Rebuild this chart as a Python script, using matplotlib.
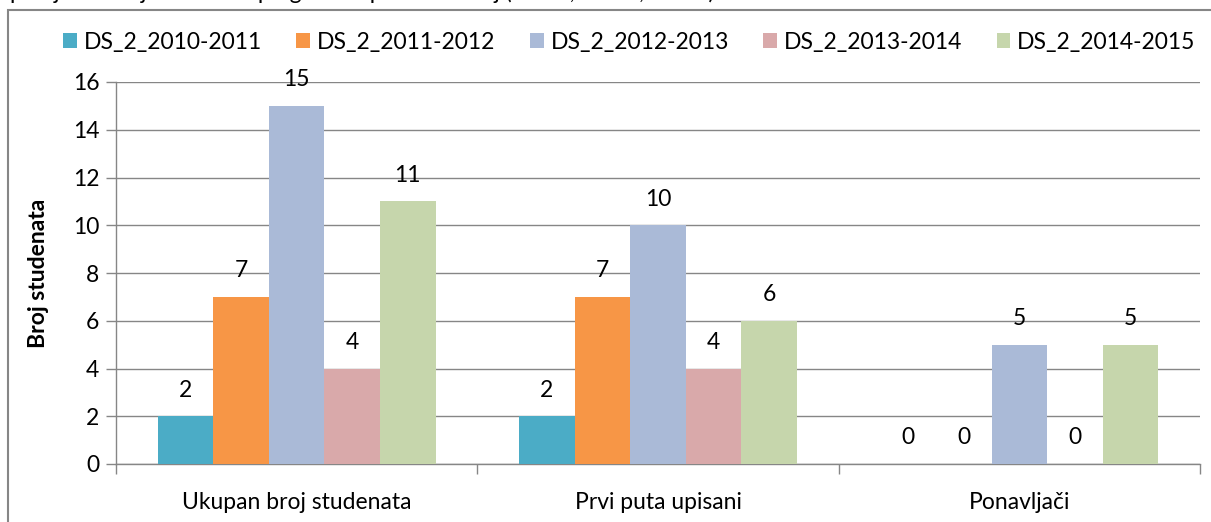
import matplotlib
matplotlib.use("Agg")
import matplotlib.pyplot as plt
import numpy as np
from matplotlib.patches import Rectangle

plt.rcParams['font.family'] = ['Lato', 'DejaVu Sans']

categories = ["Ukupan broj studenata", "Prvi puta upisani", "Ponavljači"]
series_names = ["DS_2_2010-2011", "DS_2_2011-2012", "DS_2_2012-2013",
                "DS_2_2013-2014", "DS_2_2014-2015"]
values_2010 = [2, 2, 0]
values_2011 = [7, 7, 0]
values_2012 = [15, 10, 5]
values_2013 = [4, 4, 0]
values_2014 = [11, 6, 5]
series_values = [values_2010, values_2011, values_2012, values_2013, values_2014]

colors = ["#4BACC6", "#F79646", "#AABAD7", "#D9A9AA", "#C6D6AC"]

W, H = 1211, 522
FS = 16.5
fig = plt.figure(figsize=(W / 100, H / 100), dpi=100)
ax = fig.add_axes([116 / W, 1 - 464 / H, (1200 - 116) / W, (464 - 82) / H])

# chart border and clipped title above it
fig.patches.append(Rectangle((8 / W, -0.1), 1.5, 1 - 10 / H + 0.1,
                             transform=fig.transFigure, fill=False,
                             edgecolor="#868686", linewidth=1.5))
fig.text(10 / W, 1 + 1 / H,
         "prosječni broj studenata po godini upisa na studij (2010., 2011., 2012.)",
         fontsize=FS, va="baseline", ha="left", color="black")

n = len(series_names)
bw = 1 / 6.5
x = np.arange(len(categories))
for i, (name, vals) in enumerate(zip(series_names, series_values)):
    pos = x - (n - 1) / 2 * bw + i * bw
    ax.bar(pos, vals, width=bw, color=colors[i], label=name, zorder=3,
           linewidth=0)
    for xi, v in zip(pos, vals):
        ax.annotate(str(v), (xi, v), xytext=(0, 26 * 0.72),
                    textcoords="offset points", ha="center", va="center",
                    fontsize=FS, zorder=4)

ax.set_xlim(-0.5, 2.5)
ax.set_ylim(0, 16)
ax.set_yticks(range(0, 17, 2))
ax.set_xticks(x)
ax.set_xticklabels(categories, fontsize=FS)
ax.set_xticks([-0.5, 0.5, 1.5, 2.5], minor=True)
ax.tick_params(axis="x", which="major", length=0, pad=20)
ax.tick_params(axis="x", which="minor", length=7, color="#868686", width=1)
ax.tick_params(axis="y", length=7, color="#868686", width=1, labelsize=FS, pad=5)
ax.grid(axis="y", color="#868686", linewidth=1, zorder=0)
for s in ["top", "right"]:
    ax.spines[s].set_visible(False)
for s in ["left", "bottom"]:
    ax.spines[s].set_color("#868686")
    ax.spines[s].set_linewidth(1)
ax.set_ylabel("Broj studenata", fontsize=FS, fontweight="bold", labelpad=17)

ax.legend(loc="center left", bbox_to_anchor=(54 / W, 1 - 42 / H),
          bbox_transform=fig.transFigure, ncol=5, frameon=False,
          fontsize=FS, handlelength=0.6, handleheight=0.6,
          handletextpad=0.3, columnspacing=1.5, borderaxespad=0)

fig.savefig("out.png", dpi=100)
